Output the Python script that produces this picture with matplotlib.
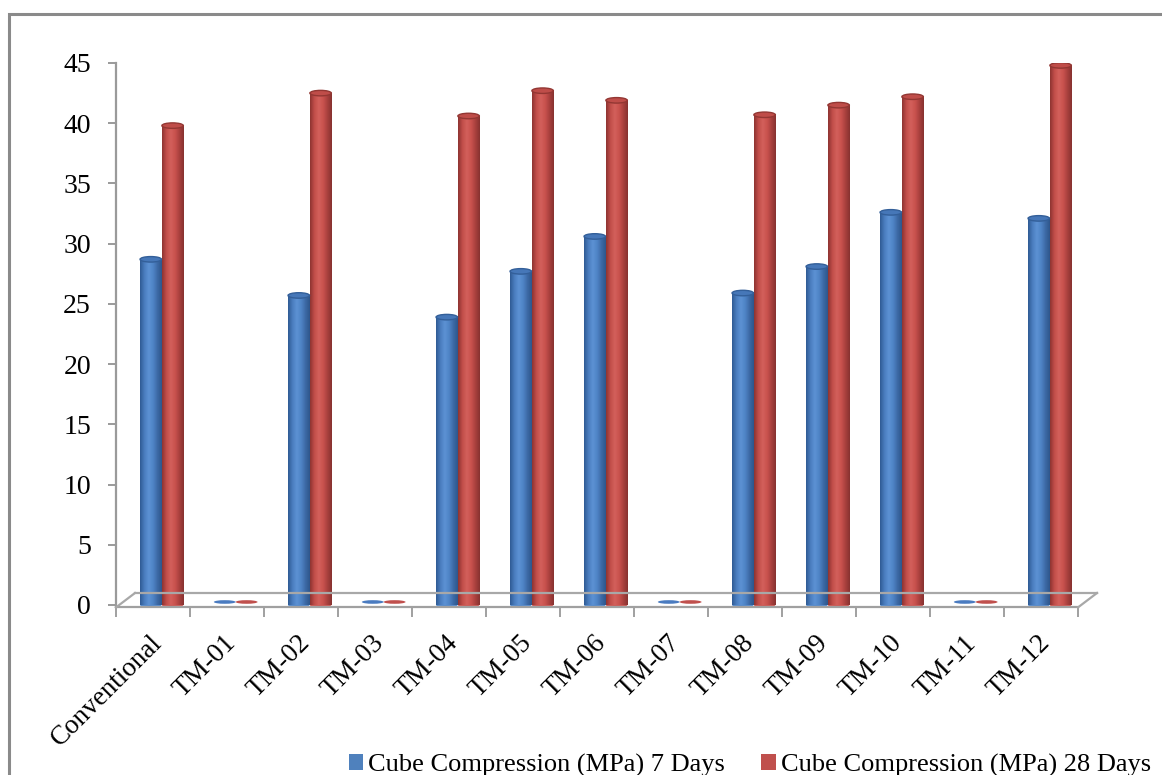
import numpy as np
import matplotlib
matplotlib.use("Agg")
import matplotlib.pyplot as plt
import matplotlib.transforms as mtransforms
from matplotlib.colors import LinearSegmentedColormap
from matplotlib.patches import Ellipse, Patch, Rectangle
from matplotlib.lines import Line2D

plt.rcParams['font.family'] = ['Liberation Serif', 'DejaVu Serif']

categories = ["Conventional", "TM-01", "TM-02", "TM-03", "TM-04", "TM-05", "TM-06",
              "TM-07", "TM-08", "TM-09", "TM-10", "TM-11", "TM-12"]
days7 = [28.7, 0, 25.7, 0, 23.9, 27.7, 30.6, 0, 25.9, 28.1, 32.6, 0, 32.1]
days28 = [39.8, 0, 42.5, 0, 40.6, 42.7, 41.9, 0, 40.7, 41.5, 42.2, 0, 44.8]
series_names = ["Cube Compression (MPa) 7 Days", "Cube Compression (MPa) 28 Days"]
yticks = [0, 5, 10, 15, 20, 25, 30, 35, 40, 45]

W, H = 1162, 775
fig = plt.figure(figsize=(W / 100, H / 100), dpi=100)
ax = fig.add_axes([116 / W, (H - 607.4) / H, (1078 - 116) / W, (607.4 - 63) / H])

# outer chart border
fig.add_artist(Rectangle((9 / W, -0.05), 1.2, (H - 14) / H + 0.05, transform=fig.transFigure,
                         fill=False, edgecolor="#8a8a8a", lw=2.2))

blue_cmap = LinearSegmentedColormap.from_list("b", ["#2f5b94", "#4a7dbf", "#5c92d4", "#4f84c6", "#3d6aa6", "#2e568c"])
red_cmap = LinearSegmentedColormap.from_list("r", ["#8e3431", "#c24e4a", "#d3605b", "#c9524e", "#a9413e", "#873230"])
grad = np.linspace(0, 1, 64)[np.newaxis, :]

bw = 0.29
px_per_unit = (607.4 - 63) / 45.2
cap_h = 5.5 / px_per_unit


def draw_series(vals, offset, cmap, cap_face, cap_edge, flat_face):
    for i, v in enumerate(vals):
        x0 = i + offset - bw / 2
        if v > 0:
            ax.add_patch(Ellipse((i + offset, 0), bw, cap_h, facecolor=cmap(0.5), edgecolor="none", zorder=2))
            ax.imshow(grad, extent=(x0, x0 + bw, 0, v), aspect="auto", cmap=cmap, zorder=2.1,
                      interpolation="bilinear")
            ax.add_patch(Ellipse((i + offset, v), bw, cap_h, facecolor=cap_face,
                                 edgecolor=cap_edge, lw=1.0, zorder=2.2))
        else:
            ax.add_patch(Ellipse((i + offset, 0.25), bw * 1.02, 0.3, facecolor=flat_face,
                                 edgecolor="none", zorder=2.2))


draw_series(days7, -0.03, blue_cmap, "#4677b8", "#335f99", "#4a7bc0")
draw_series(days28, 0.265, red_cmap, "#bf4d49", "#933733", "#c0504d")

ax.set_xlim(-0.5, len(categories) - 0.5)
ax.set_ylim(-0.2, 45)

# axes styling
for s in ["top", "right"]:
    ax.spines[s].set_visible(False)
ax.spines["left"].set_color("#9a9a9a")
ax.spines["left"].set_linewidth(1.6)
ax.spines["left"].set_bounds(-0.2, 45)
ax.spines["bottom"].set_color("#a0a0a0")
ax.spines["bottom"].set_linewidth(1.6)

ax.set_yticks(yticks)
ax.set_yticklabels([str(t) for t in yticks], fontsize=20)
ax.tick_params(axis="y", direction="out", length=6, width=1.4, color="#9a9a9a", pad=12)

ax.set_xticks(np.arange(-0.5, len(categories), 1.0))
ax.set_xticklabels([])
ax.tick_params(axis="x", direction="out", length=7, width=1.4, color="#a0a0a0")

# floor back edge and sides
floor_kw = dict(color="#a8a8a8", lw=1.6, clip_on=False, transform=fig.transFigure, zorder=1)
fig.add_artist(Line2D([135 / W, 1097 / W], [(H - 593) / H, (H - 593) / H], **floor_kw))
fig.add_artist(Line2D([116 / W, 135 / W], [(H - 607.4) / H, (H - 593) / H], **floor_kw))
fig.add_artist(Line2D([1078 / W, 1097 / W], [(H - 607.4) / H, (H - 593) / H], **floor_kw))

# category labels, rotated
lab_tr = mtransforms.offset_copy(ax.get_xaxis_transform(), fig=fig, x=5, y=-32, units="dots")
for i, c in enumerate(categories):
    ax.text(i, 0, c, transform=lab_tr, rotation=45, rotation_mode="anchor",
            ha="right", va="center", fontsize=19.5)

handles = [Patch(facecolor="#4f81bd"), Patch(facecolor="#c0504d")]
fig.legend(handles, series_names, loc="lower right", bbox_to_anchor=(1151 / W, -2 / H),
           ncol=2, frameon=False, fontsize=19, handlelength=0.55, handleheight=0.55,
           handletextpad=0.2, columnspacing=1.36, borderpad=0, borderaxespad=0)

fig.savefig("out.png", dpi=100)
